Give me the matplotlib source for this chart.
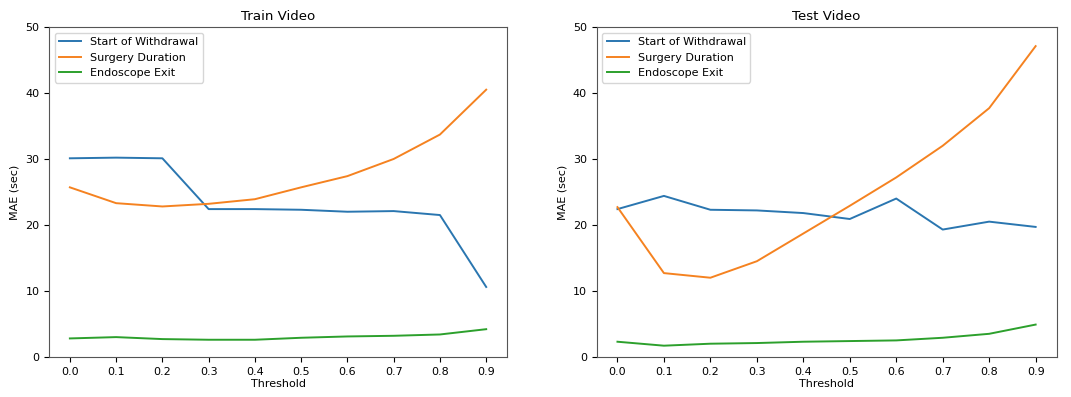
import matplotlib.pyplot as plt
import numpy as np

thresholds = [0.0, 0.1, 0.2, 0.3, 0.4, 0.5, 0.6, 0.7, 0.8, 0.9]

train_withdrawal = [30.1, 30.2, 30.1, 22.4, 22.4, 22.3, 22.0, 22.1, 21.5, 10.6]
train_duration = [25.7, 23.3, 22.8, 23.2, 23.9, 25.7, 27.4, 30.0, 33.7, 40.5]
train_exit = [2.8, 3.0, 2.7, 2.6, 2.6, 2.9, 3.1, 3.2, 3.4, 4.2]

test_withdrawal = [22.4, 24.4, 22.3, 22.2, 21.8, 20.9, 24.0, 19.3, 20.5, 19.7]
test_duration = [22.7, 12.7, 12.0, 14.5, 18.7, 22.9, 27.2, 32.0, 37.7, 47.1]
test_exit = [2.3, 1.7, 2.0, 2.1, 2.3, 2.4, 2.5, 2.9, 3.5, 4.9]

plt.rcParams['font.size'] = 8

fig = plt.figure(figsize=(10.71, 3.97), dpi=100)
ax1 = fig.add_axes([0.0458, 0.101, 0.4276, 0.831])
ax2 = fig.add_axes([0.557, 0.101, 0.4295, 0.831])

panels = [
    (ax1, 'Train Video', train_withdrawal, train_duration, train_exit),
    (ax2, 'Test Video', test_withdrawal, test_duration, test_exit),
]

for ax, title, w, d, e in panels:
    ax.plot(thresholds, w, label='Start of Withdrawal', color='#2a76b0', lw=1.4)
    ax.plot(thresholds, d, label='Surgery Duration', color='#f58220', lw=1.4)
    ax.plot(thresholds, e, label='Endoscope Exit', color='#2ca02c', lw=1.4)
    ax.set_ylim(0, 50)
    ax.set_xticks(thresholds)
    ax.set_xticklabels(['%.1f' % t for t in thresholds])
    ax.set_xlabel('Threshold', labelpad=2)
    ax.set_ylabel('MAE (sec)')
    ax.set_title(title, fontsize=9.6, pad=5)
    ax.legend(loc='upper left')
    for s in ax.spines.values():
        s.set_color('#555555')

fig.savefig('out.png', dpi=100)
